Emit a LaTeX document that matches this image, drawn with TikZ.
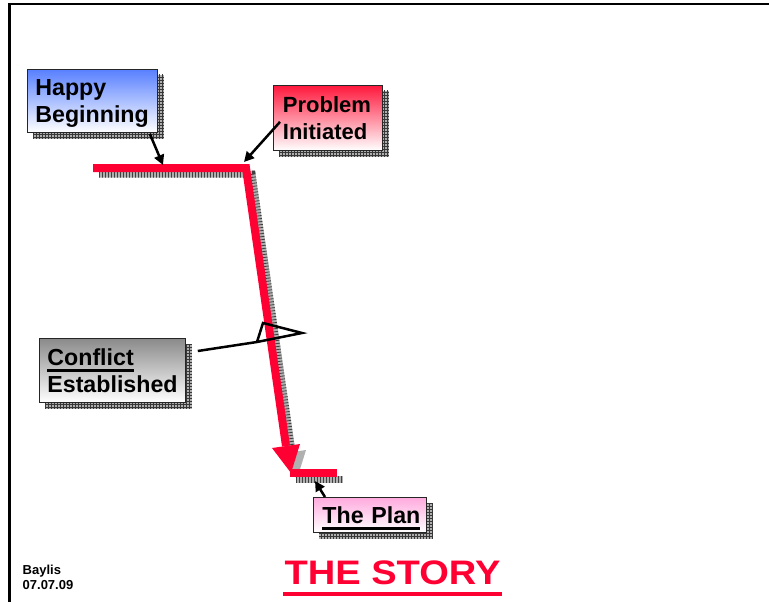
\documentclass[tikz,border=0pt]{standalone}
\usepackage{fontspec}
\setmainfont{Liberation Sans}
\usetikzlibrary{patterns,backgrounds,calc,arrows.meta}

\definecolor{storyred}{RGB}{255,0,51}
\definecolor{happyblue}{RGB}{88,128,255}
\definecolor{problemred}{RGB}{255,24,60}
\definecolor{conflictgray}{RGB}{138,138,138}
\definecolor{planpink}{RGB}{255,170,222}

% thick underline for box captions
\newlength{\ulwd}
\newcommand{\thickul}[1]{\mbox{\settowidth{\ulwd}{#1}\rlap{\rule[-6.5pt]{\ulwd}{2.6pt}}#1}}

\tikzset{
  storybox/.style={draw=black!85, line width=0.8pt, anchor=north west,
    align=left, inner xsep=8pt, text depth=27pt,
    font=\fontsize{22}{27}\selectfont\bfseries, bottom color=white},
  bigger/.style={font=\fontsize{23.2}{27}\selectfont\bfseries},
  boxshadow/.style={fill=gray!62, postaction={pattern=grid, pattern color=black!78}},
  redline/.style={storyred, line width=8pt, line join=miter},
  lineshadow/.style={gray!62, line width=7pt, line join=miter},
  shadowticks/.style={black!75, line width=7pt, dash pattern=on 0.8pt off 2.2pt},
  pointer/.style={line width=2.5pt, -{Triangle[length=10pt,width=10pt]}},
}

\begin{document}
\begin{tikzpicture}[x=1pt,y=-1pt]
\useasboundingbox (0,0) rectangle (769,602);

% page frame (top and left rules)
\draw[line width=2.2pt] (9.5,602) -- (9.5,4) -- (769,4);

% labelled boxes
\node[storybox, bigger, top color=happyblue, text width=114pt, minimum height=63pt]
  (happy) at (27,69) {Happy\\Beginning};
\node[storybox, top color=problemred, inner xsep=9.5pt, text width=90pt, minimum height=65pt]
  (problem) at (273,85) {Problem\\Initiated};
\node[storybox, bigger, top color=conflictgray, text width=130pt, minimum height=64pt]
  (conflict) at (39,338) {\thickul{Conflict}\\Established};
\node[storybox, bigger, top color=planpink, inner xsep=9pt, text width=95pt, minimum height=35pt,
  text depth=0pt] (plan) at (313,497) {\thickul{The Plan}};

% story line geometry
\coordinate (h0) at (93,168);
\coordinate (h1) at (246,168);
\coordinate (s1) at (286,446);
\coordinate (a1) at (272,448);
\coordinate (a2) at (300,444);
\coordinate (tip) at (291,473);
\coordinate (p0) at (290,473);
\coordinate (p1) at (337,473);

% drop shadows
\begin{scope}[on background layer]
  \foreach \n in {happy,problem,conflict,plan}
    \fill[boxshadow] ([shift={(6,6)}]\n.north west) rectangle ([shift={(6,6)}]\n.south east);
  \tikzset{sh/.style={shift={(6,6)}}}
  \draw[lineshadow] ([sh]h0) -- ([sh]h1) -- ([sh]s1);
  \fill[gray!62] ([sh]a1) -- ([sh]tip) -- ([sh]a2) -- cycle;
  \draw[lineshadow] ([sh]p0) -- ([sh]p1);
  \draw[shadowticks] ([sh]h0) -- ([sh]h1) -- ([sh]s1);
  \draw[shadowticks] ([sh]p0) -- ([sh]p1);
\end{scope}

% the red story line
\draw[redline] (h0) -- (h1) -- (s1);
\fill[storyred] (a1) -- (tip) -- (a2) -- cycle;
\draw[storyred, line width=8pt] (p0) -- (p1);

% pointers from the boxes
\coordinate (happyT) at (163,165);
\coordinate (problemT) at (244,162);
\coordinate (planT) at (315,481);
\draw[pointer] ($(happy.south east)+(-8,1)$) -- (happyT);
\draw[pointer] ($(problem.west)+(7,4)$) -- (problemT);
\draw[pointer] ($(plan.north west)+(12,0)$) -- (planT);
\draw[line width=2.5pt, line join=miter]
  ($(conflict.north east)+(12,13)$) -- (257,342) -- (263,323) -- (302,333) -- (257,342);

% title and author
\node[storyred, inner sep=0pt, anchor=base, xscale=1.12,
  font=\fontsize{34}{38}\selectfont\bfseries] (story) at (392.5,584.3) {THE STORY};
\draw[storyred, line width=4pt] (283,593.7) -- (502,593.7);
\node[anchor=north west, inner sep=0pt, align=left,
  font=\fontsize{13}{15}\selectfont\bfseries] (author) at (22.5,564.8) {Baylis\\07.07.09};
\end{tikzpicture}
\end{document}
